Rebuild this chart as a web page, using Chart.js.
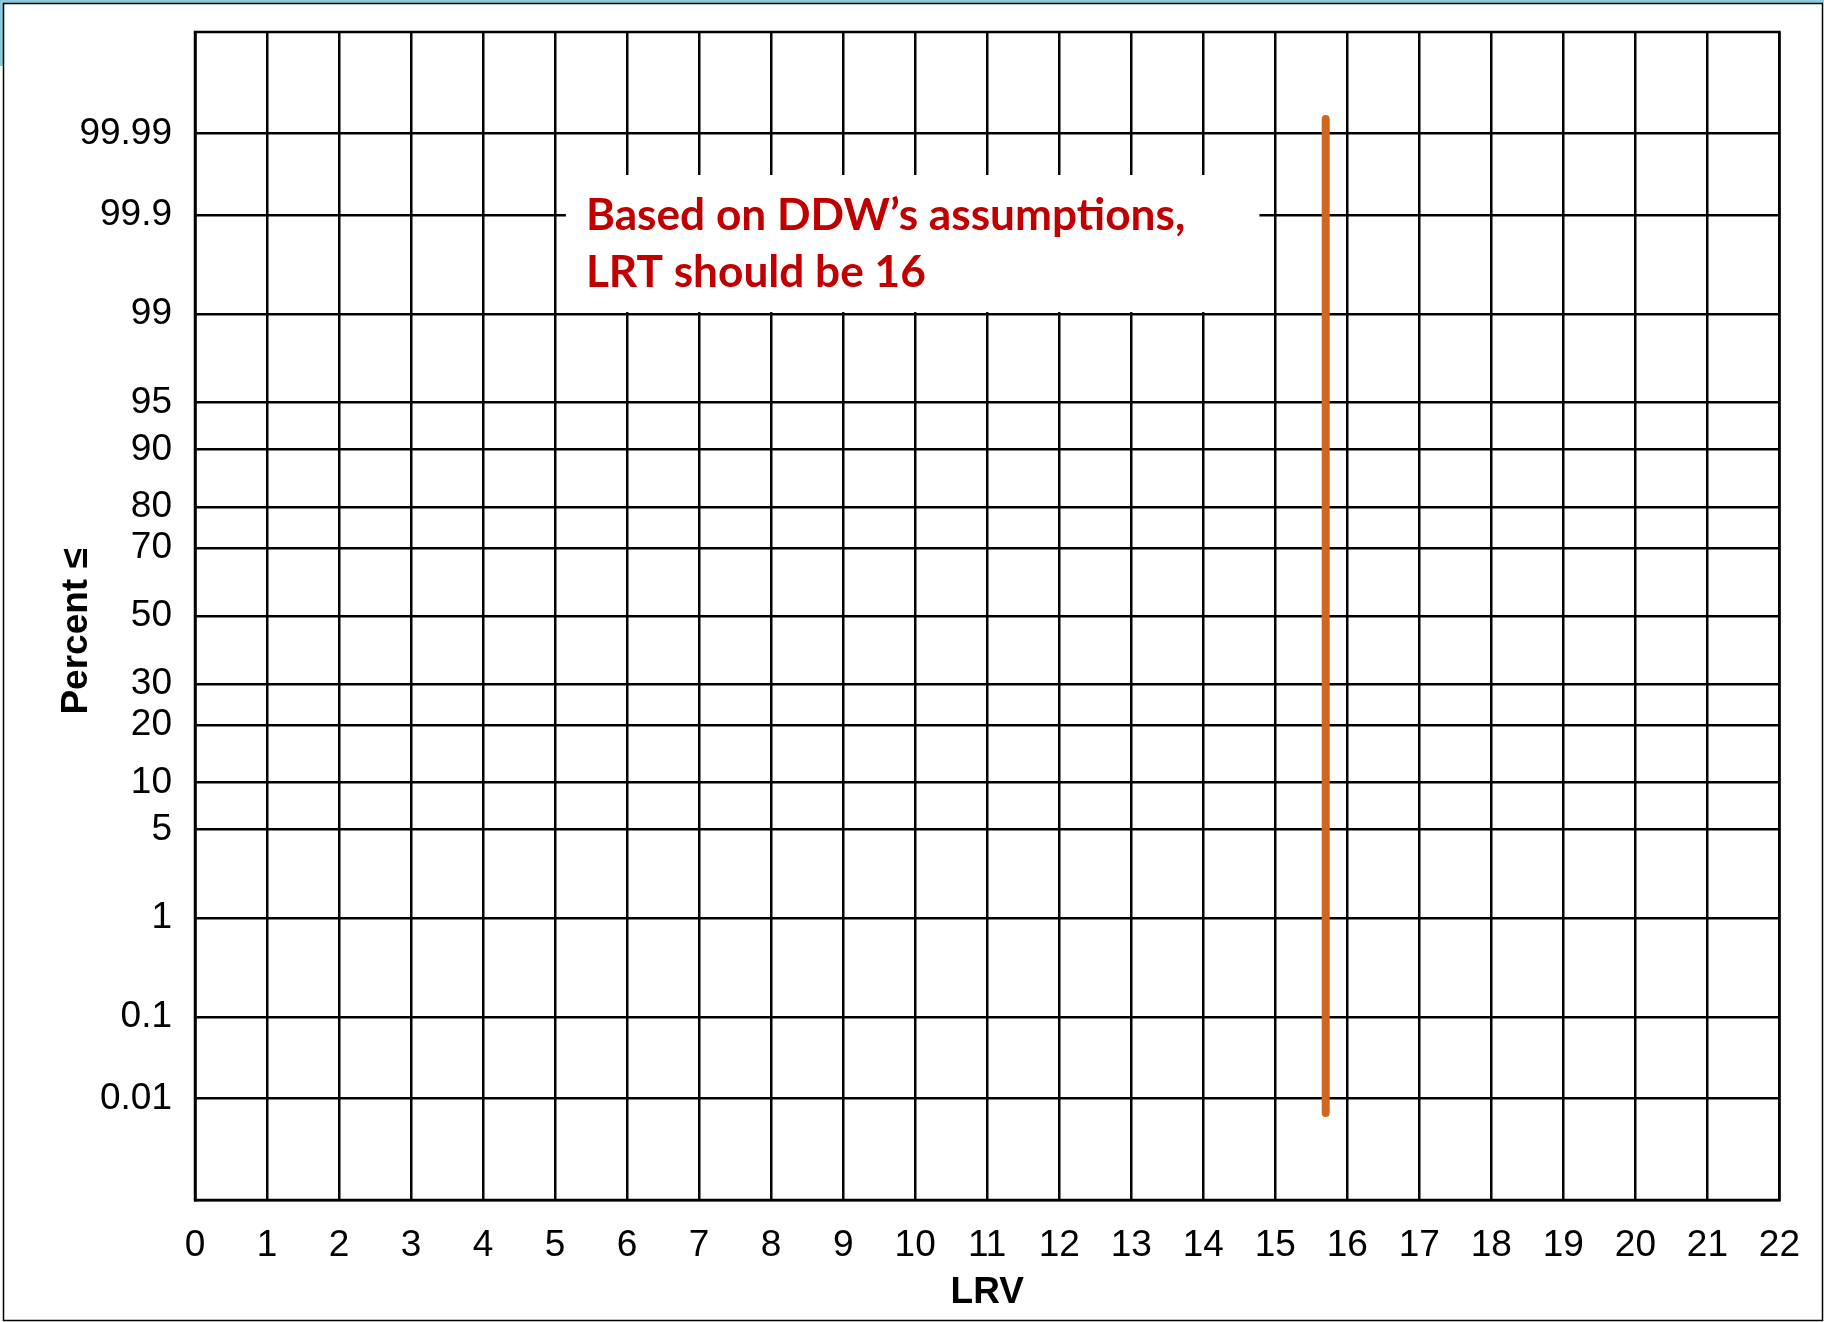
<!DOCTYPE html>
<html>
<head>
<meta charset="utf-8">
<title>LRV probability plot</title>
<script src="https://cdn.jsdelivr.net/npm/chart.js@4.4.1/dist/chart.umd.min.js"></script>
<style>
  html, body { margin: 0; padding: 0; background: #ffffff; }
  #wrap { position: relative; width: 1824px; height: 1322px; }
  canvas { display: block; }
</style>
</head>
<body>
<div id="wrap"><canvas id="chart" width="1824" height="1322"></canvas></div>
<script>
// Cumulative percent gridlines on the normal-probability (probit) axis
const percentTicks  = [0.01, 0.1, 1, 5, 10, 20, 30, 50, 70, 80, 90, 95, 99, 99.9, 99.99];
const percentLabels = ['0.01', '0.1', '1', '5', '10', '20', '30', '50', '70', '80', '90', '95', '99', '99.9', '99.99'];

// LRV axis
const lrvMin = 0;
const lrvMax = 22;
const lrvStep = 1;

// Vertical LRT marker (LRV, cumulative percent)
const lrtLineLRV     = [15.7, 15.7];
const lrtLinePercent = [0.0064, 99.9936];

// Callout text
const noteLines = ['Based on DDW\u2019s assumptions,', 'LRT should be 16'];

// Inverse standard normal CDF (Acklam's rational approximation)
function probit(p) {
  const a = [-3.969683028665376e+01, 2.209460984245205e+02, -2.759285104469687e+02,
             1.383577518672690e+02, -3.066479806614716e+01, 2.506628277459239e+00];
  const b = [-5.447609879822406e+01, 1.615858368580409e+02, -1.556989798598866e+02,
             6.680131188771972e+01, -1.328068155288572e+01];
  const c = [-7.784894002430293e-03, -3.223964580411365e-01, -2.400758277161838e+00,
             -2.549732539343734e+00, 4.374664141464968e+00, 2.938163982698783e+00];
  const d = [7.784695709041462e-03, 3.224671290700398e-01, 2.445134137142996e+00,
             3.754408661907416e+00];
  const pl = 0.02425, ph = 1 - pl;
  let q, r;
  if (p < pl) {
    q = Math.sqrt(-2 * Math.log(p));
    return (((((c[0]*q+c[1])*q+c[2])*q+c[3])*q+c[4])*q+c[5]) /
           ((((d[0]*q+d[1])*q+d[2])*q+d[3])*q+1);
  }
  if (p <= ph) {
    q = p - 0.5; r = q * q;
    return (((((a[0]*r+a[1])*r+a[2])*r+a[3])*r+a[4])*r+a[5])*q /
           (((((b[0]*r+b[1])*r+b[2])*r+b[3])*r+b[4])*r+1);
  }
  q = Math.sqrt(-2 * Math.log(1 - p));
  return -(((((c[0]*q+c[1])*q+c[2])*q+c[3])*q+c[4])*q+c[5]) /
          ((((d[0]*q+d[1])*q+d[2])*q+d[3])*q+1);
}

const zRange = 4.5; // probit axis spans +/- 4.5 standard deviations
const gridW = 2.5;
const tickFont = { family: "'Liberation Sans', Arial, sans-serif", size: 37 };
const titleFont = { family: "'Liberation Sans', Arial, sans-serif", size: 37, weight: 'bold' };

const lrtData = lrtLineLRV.map((x, i) => ({ x: x, y: probit(lrtLinePercent[i] / 100) }));

// Page frame, plot border and callout
const framePlugin = {
  id: 'frame',
  beforeDraw(chart) {
    const ctx = chart.ctx;
    const W = chart.width, H = chart.height;
    ctx.save();
    ctx.fillStyle = '#ffffff';
    ctx.fillRect(0, 0, W, H);
    ctx.fillStyle = '#8ccbdc';
    ctx.fillRect(0, 0, W, 3);
    ctx.fillRect(0, 0, 3, 66);
    ctx.strokeStyle = '#000000';
    ctx.lineWidth = 1.5;
    ctx.strokeRect(3.5, 3.5, W - 5, H - 5);
    ctx.restore();
  },
  beforeDatasetsDraw(chart) {
    const { ctx, chartArea: a, scales } = chart;
    ctx.save();
    ctx.strokeStyle = '#000000';
    ctx.lineWidth = gridW;
    ctx.strokeRect(a.left, a.top, a.right - a.left, a.bottom - a.top);

    // callout box over the grid
    const x = scales.x, y = scales.y;
    const bx0 = x.getPixelForValue(5.15);
    const bx1 = x.getPixelForValue(14.78);
    const by0 = a.top + 143;
    const by1 = y.getPixelForValue(probit(0.99)) - 2;
    ctx.fillStyle = '#ffffff';
    ctx.fillRect(bx0, by0, bx1 - bx0, by1 - by0);

    ctx.fillStyle = '#C00000';
    ctx.textAlign = 'left';
    ctx.textBaseline = 'alphabetic';
    let size = 40;
    ctx.font = 'bold ' + size + "px Lato, 'Open Sans', sans-serif";
    const w = ctx.measureText(noteLines[0]).width;
    size = size * 599 / w;
    ctx.font = 'bold ' + size.toFixed(1) + "px Lato, 'Open Sans', sans-serif";
    const tx = bx0 + 20;
    ctx.fillText(noteLines[0], tx, a.top + 198);
    ctx.fillText(noteLines[1], tx, a.top + 255);
    ctx.restore();
  }
};

new Chart(document.getElementById('chart'), {
  type: 'scatter',
  data: {
    datasets: [{
      label: 'LRT',
      data: lrtData,
      showLine: true,
      borderColor: '#D2661E',
      backgroundColor: '#D2661E',
      borderWidth: 8,
      borderCapStyle: 'round',
      pointRadius: 0,
      pointHoverRadius: 0
    }]
  },
  options: {
    responsive: false,
    devicePixelRatio: 1,
    animation: false,
    events: [],
    layout: { padding: { top: 32, right: 44, left: 0, bottom: 0 } },
    plugins: {
      legend: { display: false },
      tooltip: { enabled: false }
    },
    scales: {
      x: {
        type: 'linear',
        min: lrvMin,
        max: lrvMax,
        afterFit(scale) { scale.height = 122; },
        grid: { color: '#000000', lineWidth: gridW, drawTicks: false },
        border: { display: true, color: '#000000', width: gridW },
        ticks: {
          stepSize: lrvStep,
          autoSkip: false,
          maxRotation: 0,
          padding: 24,
          color: '#000000',
          font: tickFont
        },
        title: {
          display: true,
          text: 'LRV',
          color: '#000000',
          font: titleFont,
          padding: { top: 0, bottom: 7 }
        }
      },
      y: {
        type: 'linear',
        min: -zRange,
        max: zRange,
        afterFit(scale) {
          scale.width = 195;
          scale.paddingTop = 0;
          scale.paddingBottom = 0;
        },
        afterBuildTicks(scale) {
          scale.ticks = percentTicks.map(p => ({ value: probit(p / 100) }));
        },
        grid: { color: '#000000', lineWidth: gridW, drawTicks: false },
        border: { display: true, color: '#000000', width: gridW },
        ticks: {
          autoSkip: false,
          padding: 23,
          color: '#000000',
          font: tickFont,
          callback: (v, i) => percentLabels[i]
        },
        title: {
          display: true,
          text: 'Percent \u2264   ',
          color: '#000000',
          font: titleFont,
          padding: { top: 55, bottom: 0 }
        }
      }
    }
  },
  plugins: [framePlugin]
});
</script>
</body>
</html>
